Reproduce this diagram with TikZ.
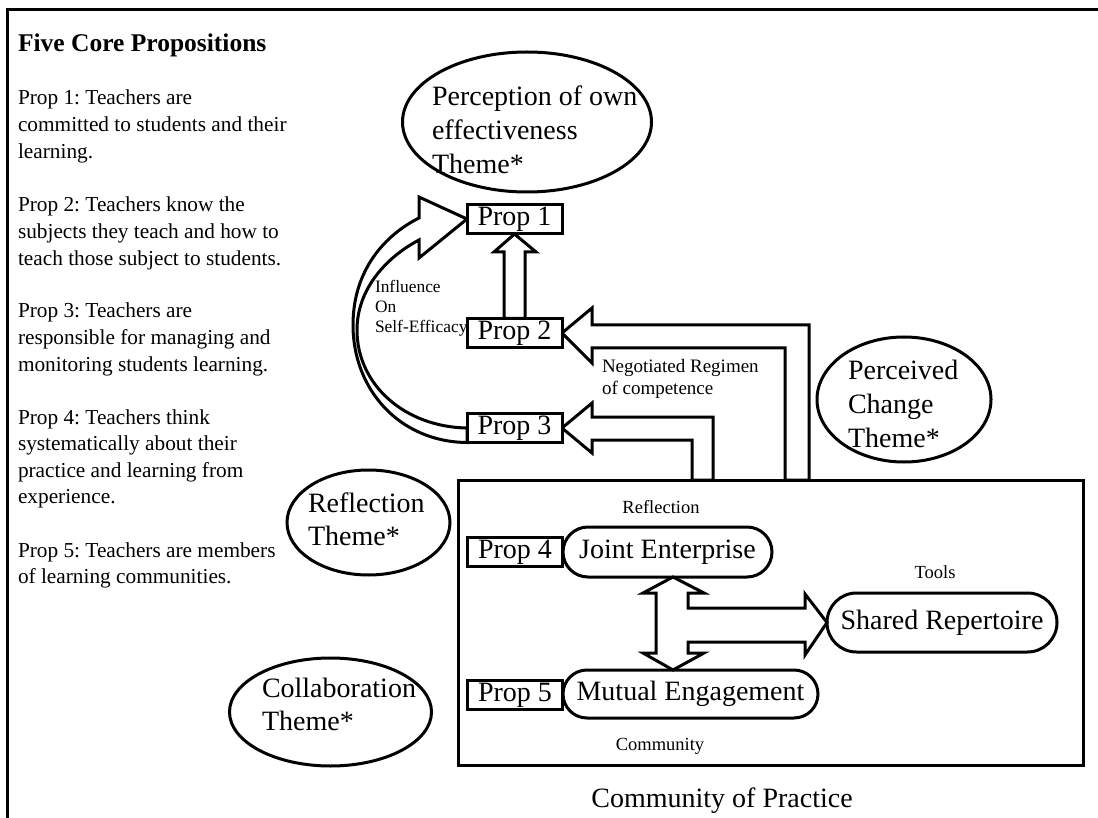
\documentclass[tikz,border=0pt]{standalone}
\usepackage{fontspec}
\setmainfont{Liberation Serif}
\usetikzlibrary{shapes.geometric,shapes.misc,calc}
\frenchspacing
% multi-line text whose baseline is that of its first line
\newcommand\stackedlines[1]{\begin{tabular}[t]{@{}l@{}}#1\end{tabular}}

\begin{document}
\begin{tikzpicture}[x=1pt,y=-1pt,
  line width=3pt, line join=miter,
  every node/.style={outer sep=0pt},
  propbox/.style={draw, rectangle, fill=white, minimum width=95pt, minimum height=29pt,
    inner sep=0pt, font=\fontsize{28}{32}\selectfont},
  theme/.style={draw, ellipse, inner sep=0pt},
  themetext/.style={anchor=base west, inner sep=0pt,
    font=\fontsize{28}{33.7}\selectfont},
  stadium/.style={draw, rounded rectangle, fill=white, inner sep=0pt,
    font=\fontsize{28}{32}\selectfont},
  blockarrow/.style={draw, fill=white, line width=3pt, line join=miter},
  body/.style={anchor=base west, inner sep=0pt,
    font=\fontsize{21.3}{26.6}\selectfont},
  small/.style={anchor=base, inner sep=0pt, font=\fontsize{18.5}{22}\selectfont},
]
\useasboundingbox (0,0) rectangle (1098,818);

% page frame
\draw (7,818) -- (7,10) -- (1098,10);

% left column: the five propositions
\node[anchor=base west, inner sep=0pt, font=\bfseries\fontsize{25.5}{29}\selectfont]
  (title) at (18,52) {Five Core Propositions};
\node[body] (t1) at (18,105) {\stackedlines{Prop 1: Teachers are\\committed to students and their\\learning.}};
\node[body] (t2) at (18,212) {\stackedlines{Prop 2: Teachers know the\\subjects they teach and how to\\teach those subject to students.}};
\node[body] (t3) at (18,318) {\stackedlines{Prop 3: Teachers are\\responsible for managing and\\monitoring students learning.}};
\node[body] (t4) at (18,424) {\stackedlines{Prop 4: Teachers think\\systematically about their\\practice and learning from\\experience.}};
\node[body] (t5) at (18,557) {\stackedlines{Prop 5: Teachers are members\\of learning communities.}};

% theme ellipses
\node[theme, minimum width=249pt, minimum height=140pt] (perc)   at (527,122)   {};
\node[theme, minimum width=174pt, minimum height=125pt] (change) at (904,399.5) {};
\node[theme, minimum width=163pt, minimum height=105pt] (refl)   at (368.5,522.5) {};
\node[theme, minimum width=202pt, minimum height=108pt] (collab) at (330.5,712) {};
\node[themetext] (perctxt)   at (432,106) {\stackedlines{Perception of own\\effectiveness\\Theme*}};
\node[themetext] (changetxt) at (848,380) {\stackedlines{Perceived\\Change\\Theme*}};
\node[themetext] (refltxt)   at (308,512) {\stackedlines{Reflection\\Theme*}};
\node[themetext] (collabtxt) at (262,697) {\stackedlines{Collaboration\\Theme*}};

% community of practice frame
\node[draw, rectangle, minimum width=625pt, minimum height=285pt, inner sep=0pt]
  (cop) at (770.5,622.5) {};
\node[anchor=base, inner sep=0pt, font=\fontsize{28}{32}\selectfont] (coptitle)
  at (722,807) {Community of Practice};

% proposition boxes (positions)
\coordinate (c1) at (514.5,219);
\coordinate (c2) at (514.5,333);
\coordinate (c3) at (514.5,428);

% curved arrow: Prop 3 feeds back into Prop 1
\path (c1) ++(-47.5,0) coordinate (p1w);
\path (c3) ++(-47.5,0) coordinate (p3w);
\path (c3) ++(-47.5,14.5) coordinate (p3sw);
\draw[blockarrow] (p1w) -- (419,258) -- (419,240)
  .. controls (385,258) and (357,290) .. (357,330)
  .. controls (357,385) and (405,427) .. (p3w)
  -- (p3sw)
  .. controls (400,442) and (353,390) .. (353,325)
  .. controls (353,270) and (385,235) .. (419,218)
  -- (419,197) -- cycle;

\node[anchor=base west, inner sep=0pt, font=\fontsize{17.4}{20}\selectfont]
  (infl) at (375,293) {\stackedlines{Influence\\On\\Self-Efficacy}};

% block arrows from the community of practice
\draw[blockarrow] (c2) ++(47.5,0) coordinate (p2e) -- ++(30,-25) -- (592,325)
  -- (809,325) -- (809,0 |- cop.north) -- (785,0 |- cop.north) -- (785,348)
  -- (592,348) -- (592,363) -- cycle;
\draw[blockarrow] (c3) ++(47.5,0) coordinate (p3e) -- ++(30,-25) -- (592,417)
  -- (713,417) -- (713,0 |- cop.north) -- (692,0 |- cop.north) -- (692,440)
  -- (592,440) -- (592,453) -- cycle;

\node[anchor=base west, inner sep=0pt, font=\fontsize{19}{23}\selectfont]
  (negot) at (602,372) {\stackedlines{Negotiated Regimen\\of competence}};

% Prop 2 -> Prop 1
\draw[blockarrow] (504,318.5) -- (504,252) -- (494,252) -- (514.5,234) -- (536,252)
  -- (525,252) -- (525,318.5) -- cycle;

\node[propbox] (p1) at (c1) {Prop 1};
\node[propbox] (p2) at (c2) {Prop 2};
\node[propbox] (p3) at (c3) {Prop 3};

% inside the community of practice
\node[propbox] (p4) at (515,552) {Prop 4};
\node[propbox] (p5) at (515,695) {Prop 5};
\node[stadium, minimum width=209pt, minimum height=50pt] (je) at (667.5,552) {Joint Enterprise};
\node[stadium, minimum width=255pt, minimum height=48pt] (me) at (690.5,694) {Mutual Engagement};
\node[stadium, minimum width=230pt, minimum height=59pt] (sr) at (942,622.5) {Shared Repertoire};

\node[small] (lrefl) at (661,513) {Reflection};
\node[small] (ltools) at (935,578) {Tools};
\node[small] (lcomm) at (660,750) {Community};

% two-way arrow between enterprise and engagement, branching to the repertoire
\draw[blockarrow] (673,0 |- je.south) -- (704,593) -- (688,593) -- (688,608)
  -- (805,608) -- (805,594) -- (sr.west) -- (805,655) -- (805,642)
  -- (688,642) -- (688,653) -- (704,653) -- (673,0 |- me.north)
  -- (643,653) -- (656,653) -- (656,593) -- (643,593) -- cycle;
\end{tikzpicture}
\end{document}
